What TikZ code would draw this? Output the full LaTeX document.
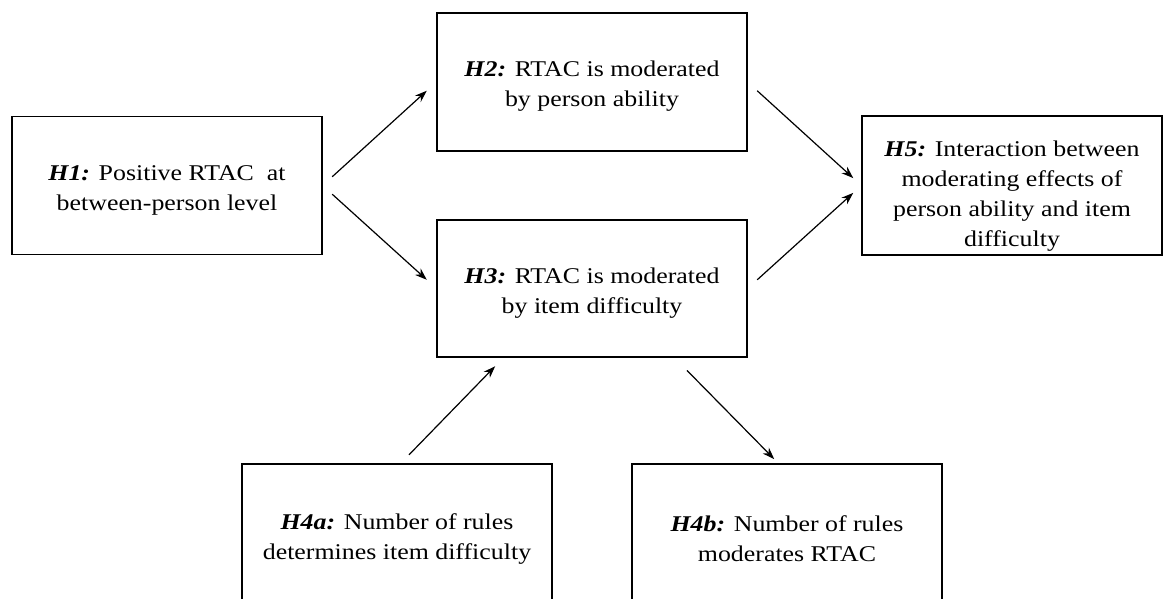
\documentclass[tikz,border=0pt]{standalone}
\usepackage{fontspec}
\setmainfont[FakeStretch=1.15]{Liberation Serif}
\usetikzlibrary{arrows.meta}
\newcommand{\topstrut}[1]{\rule{0pt}{#1}}
\tikzset{
  hbox/.style={draw, line width=1.2pt, minimum width=310pt, minimum height=138pt, align=center, inner sep=0pt,
    font=\fontsize{22.5}{30}\selectfont},
  arr/.style={-{Stealth[length=12pt,width=8.5pt]}, line width=1.2pt}
}
\begin{document}
\begin{tikzpicture}[x=1pt,y=-1pt]
\clip (0,0) rectangle (1165,599);
\fill[white] (0,0) rectangle (1165,599);
\node[hbox] (h1) at (167,185.5) {\topstrut{24pt}\textbf{\textit{H1:}} Positive RTAC~ at\\between-person level};
\node[hbox] (h2) at (592,82) {\topstrut{24pt}\textbf{\textit{H2:}} RTAC is moderated\\by person ability};
\node[hbox, minimum height=137pt] (h3) at (592,288.5) {\topstrut{24pt}\textbf{\textit{H3:}} RTAC is moderated\\by item difficulty};
\node[hbox, minimum width=300pt, minimum height=139pt] (h5) at (1012,185.5) {\topstrut{36pt}\textbf{\textit{H5:}} Interaction between\\moderating effects of\\person ability and item\\difficulty};
\node[hbox] (h4a) at (397,533) {\topstrut{28pt}\textbf{\textit{H4a:}} Number of rules\\determines item difficulty};
\node[hbox] (h4b) at (787,533) {\topstrut{28pt}\textbf{\textit{H4b:}} Number of rules\\moderates RTAC};
\draw[arr, shorten <=13pt, shorten >=13pt] (h1.east) -- (h2.west);
\draw[arr, shorten <=13pt, shorten >=13pt] (h1.east) -- (h3.west);
\draw[arr, shorten <=13pt, shorten >=11pt] (h2.east) -- (h5.west);
\draw[arr, shorten <=13pt, shorten >=11pt] (h3.east) -- (h5.west);
\draw[arr, shorten <=12pt, shorten >=12pt] (h4a.87) -- (h3.218);
\draw[arr, shorten <=18pt, shorten >=6pt] (h3.-40) -- (h4b.97);
\end{tikzpicture}
\end{document}
